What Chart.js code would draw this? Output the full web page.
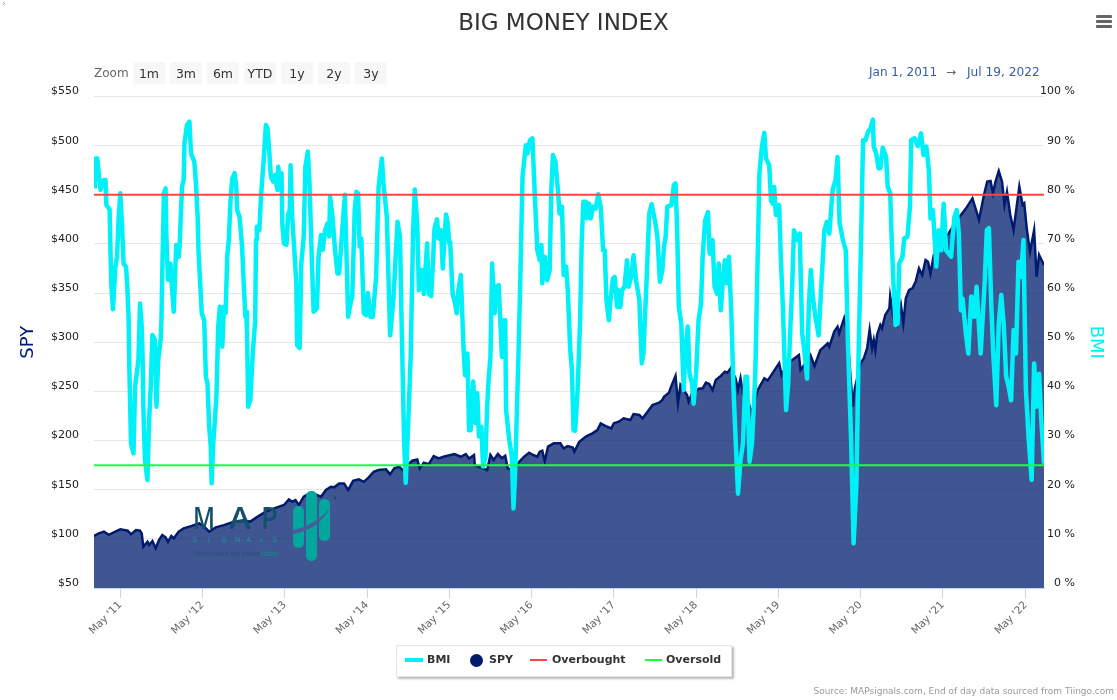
<!DOCTYPE html>
<html><head><meta charset="utf-8">
<script src="https://cdn.jsdelivr.net/npm/chart.js@4"></script>
<style>
html,body{margin:0;padding:0;background:#fff;overflow:hidden}
body{width:1117px;height:700px;position:relative;font-family:"DejaVu Sans",sans-serif}
canvas{position:absolute;left:0;top:0}
.abs{position:absolute;white-space:nowrap}
.btn{position:absolute;top:62px;width:32px;height:22px;line-height:23px;background:#f7f7f7;border-radius:2px;text-align:center;font-size:12.5px;color:#333}
.leg{position:absolute;white-space:nowrap;top:653px;font-size:11px;font-weight:bold;color:#333;line-height:14px}
</style></head><body>
<canvas id="c" width="1117" height="700"></canvas>
<div class="abs" style="left:0;width:1127px;top:7px;text-align:center;font-size:23px;color:#333;line-height:30px">BIG MONEY INDEX</div>
<div class="abs" style="left:2px;top:-2px;font-size:9px;color:#999">›</div>
<div class="abs" style="left:1096px;top:15px;width:16px;height:3px;background:#666;border-radius:1px"></div>
<div class="abs" style="left:1096px;top:20px;width:16px;height:3px;background:#666;border-radius:1px"></div>
<div class="abs" style="left:1096px;top:25px;width:16px;height:3px;background:#666;border-radius:1px"></div>
<div class="abs" style="left:94px;top:66px;font-size:12px;color:#666">Zoom</div>
<div id="btns"></div>
<div class="abs" style="left:869px;top:65px;font-size:12px;color:#335cad">Jan 1, 2011</div>
<div class="abs" style="left:946px;top:65px;font-size:12px;color:#666">→</div>
<div class="abs" style="left:967px;top:65px;font-size:12.2px;color:#335cad">Jul 19, 2022</div>
<svg class="abs" style="left:0;top:0" width="1117" height="700">
  <g font-family="'Open Sans',sans-serif" font-size="30" font-weight="600" fill="#14506e">
    <text x="193" y="529" textLength="22" lengthAdjust="spacingAndGlyphs">M</text>
    <text x="229" y="529" textLength="22" lengthAdjust="spacingAndGlyphs">A</text>
    <text x="261" y="529" textLength="17" lengthAdjust="spacingAndGlyphs">P</text>
  </g>
  <text x="193 208 221.5 235 246.5 260 273" y="542" font-family="'Open Sans',sans-serif" font-size="7" fill="#0aa39b">SIGNALS</text>
  <text x="193" y="556" font-family="'Open Sans',sans-serif" font-size="6.5" fill="#1f5273" textLength="85">Tomorrow's top stocks <tspan fill="#0a8f8c">today</tspan></text>
  <rect x="293" y="506" width="11" height="42" rx="5" fill="#00a79d"/>
  <rect x="306" y="491" width="11" height="70" rx="5" fill="#00a79d"/>
  <rect x="319" y="499" width="11" height="42" rx="5" fill="#00a79d"/>
  <path d="M293 530 Q316 525 330 508 Q318 530 293 534 Z" fill="#4a5a9a"/>
  <circle cx="335" cy="498" r="1.4" fill="#14506e"/>
</svg>
<div id="legend"></div>
<div class="abs" style="right:3px;top:686px;font-size:9px;color:#999">Source: MAPsignals.com, End of day data sourced from Tiingo.com</div>
<script>
const rangeButtons=["1m","3m","6m","YTD","1y","2y","3y"];
const tickYears=[0.32,1.32,2.32,3.32,4.32,5.32,6.32,7.32,8.32,9.32,10.32,11.33];
const tickLabels=["May '11","May '12","May '13","May '14","May '15","May '16","May '17","May '18","May '19","May '20","May '21","May '22"];
const endYears=[0,11.55];
const overbought=[80,80];
const oversold=[25,25];
const bmiYears=[.01,.02,.04,.06,.08,.12,.14,.15,.19,.20,.21,.23,.26,.28,.30,.32,.34,.36,.39,.405,.42,.43,.45,.48,.50,.54,.56,.58,.59,.60,.62,.65,.67,.69,.71,.74,.76,.78,.81,.82,.83,.85,.87,.88,.90,.93,.95,.97,.99,1.00,1.03,1.04,1.07,1.09,1.10,1.13,1.16,1.18,1.22,1.24,1.26,1.27,1.31,1.34,1.36,1.38,1.40,1.42,1.43,1.45,1.47,1.49,1.51,1.53,1.56,1.58,1.60,1.62,1.64,1.66,1.68,1.71,1.73,1.74,1.77,1.80,1.82,1.84,1.85,1.86,1.875,1.90,1.93,1.96,1.97,1.98,2.01,2.03,2.06,2.09,2.11,2.13,2.15,2.18,2.20,2.23,2.24,2.27,2.28,2.29,2.31,2.34,2.36,2.38,2.39,2.41,2.44,2.46,2.47,2.50,2.52,2.55,2.57,2.60,2.62,2.65,2.67,2.71,2.73,2.76,2.78,2.81,2.84,2.86,2.87,2.90,2.93,2.96,2.98,3.01,3.05,3.09,3.11,3.14,3.17,3.19,3.21,3.23,3.25,3.28,3.31,3.33,3.36,3.39,3.43,3.46,3.50,3.52,3.56,3.60,3.64,3.69,
3.72,3.74,3.77,3.79,3.82,3.85,3.88,3.90,3.93,3.95,3.99,4.01,4.05,4.07,4.10,4.12,4.14,4.17,4.19,4.22,4.24,4.28,4.30,4.32,4.33,4.36,4.39,4.41,4.43,4.46,4.49,4.51,4.54,4.56,4.58,4.61,4.64,4.66,4.68,4.71,4.73,4.76,4.78,4.80,4.82,4.84,4.87,4.89,4.92,4.96,4.98,5.00,5.01,5.05,5.08,5.10,5.12,5.16,5.18,5.21,5.25,5.27,5.30,5.33,5.36,5.39,5.42,5.44,5.45,5.48,5.51,5.54,5.56,5.58,5.61,5.64,5.66,5.69,5.71,5.74,5.76,5.79,5.81,5.83,5.85,5.88,5.91,5.93,5.95,5.98,5.99,6.02,6.04,6.07,6.10,6.13,6.16,6.19,6.21,6.23,6.26,6.28,6.31,6.33,6.36,6.375,6.40,6.42,6.45,6.48,6.50,6.53,6.56,6.59,6.63,6.66,6.68,6.72,6.75,6.78,6.82,6.85,6.88,6.91,6.93,6.95,6.97,7.02,7.05,7.07,7.09,7.11,7.14,7.17,7.19,7.22,7.24,7.27,7.29,7.32,7.35,7.38,7.40,7.43,7.465,7.485,7.52,7.545,7.575,7.595,7.62,7.65,7.67,7.695,7.72,7.75,7.775,7.81,7.83,7.86,7.89,7.92,7.94,7.97,8.00,8.04,8.09,
8.12,8.15,8.17,8.21,8.23,8.25,8.27,8.29,8.33,8.35,8.375,8.415,8.44,8.465,8.49,8.51,8.55,8.58,8.61,8.64,8.67,8.69,8.715,8.74,8.77,8.81,8.84,8.88,8.91,8.94,8.98,9.015,9.04,9.065,9.105,9.14,9.165,9.205,9.235,9.27,9.295,9.33,9.35,9.38,9.41,9.44,9.47,9.48,9.51,9.54,9.56,9.59,9.63,9.65,9.68,9.70,9.72,9.745,9.77,9.79,9.83,9.85,9.89,9.92,9.935,9.975,10.015,10.055,10.085,10.12,10.15,10.17,10.20,10.24,10.27,10.30,10.33,10.36,10.42,10.46,10.49,10.515,10.54,10.56,10.60,10.63,10.665,10.70,10.73,10.78,10.83,10.855,10.88,10.91,10.935,10.97,11.0,11.03,11.06,11.09,11.12,11.15,11.18,11.21,11.24,11.27,11.30,11.33,11.365,11.40,11.43,11.46,11.49,11.515,11.55];
const bmiValues=[81.3,87.4,87.4,84,81,83,83,78,77,68.8,62,56.7,65.4,67.4,75.5,80.3,74,66,65.3,61.3,55.2,44.4,29.4,27.4,41,46.4,57.9,53.2,47.7,36.9,26,22,34.2,41,51.5,50.5,36.9,46.4,50.5,54.5,64,80.3,81.3,71.5,62.7,66,60.6,56.2,65.4,69.8,67.4,69.4,81.6,83,90.5,94.2,94.9,88.4,86.7,82.3,75.5,68.8,55.9,54.5,43,41.6,32.8,28.8,21.3,29.4,34.2,39.6,53.2,57.2,49.1,57.2,55.9,67.4,71.1,78.9,83.3,84.4,81.6,76.9,75.5,69.5,62,55.2,56.2,52.5,36.9,38.2,47.7,54.5,70.8,73.5,72.8,79.6,86.4,94.2,93.5,89,83.7,82.7,84,81,85.7,81,84.4,74,70.1,69.8,75.9,76.9,86,75.5,67.4,62,49.4,48.8,66,71.5,85.7,88.8,82.3,66,56.2,56.9,67.4,71.8,68.8,72.8,74.2,71.5,79.6,75.5,68.8,64,64,70.8,80,55.2,57.2,59.3,76.9,80.6,80.3,69.5,71.1,55.9,55.5,60,55.2,55.2,63.3,81.6,87.4,82.3,75.5,51.4,58.6,74.5,
71.5,53.8,30.1,21.4,33.5,47,72.8,81.1,74.2,60.6,64.7,59.8,70.1,59.9,59.4,66,73.2,75,71.1,72.8,65,76,74.2,70.1,70.4,59.9,57.9,55.9,60.6,63.7,49.8,43.3,47.7,32.1,32.1,42,33.5,39.6,30.8,32.8,24.7,26.7,36.9,43,47,66,55.9,61.3,61.6,47,54.5,54.5,36.2,30,26.7,16.2,23.3,47,60.6,83.7,90.1,88.4,91.1,91.5,79.6,68.7,66.7,69.8,62,67.4,62.6,64.7,81,88.1,86.7,81,76.2,77.6,63.7,65.4,60.6,48.4,44.7,32.1,32,40.3,54.5,70.8,78.6,78.6,75.2,78.2,75.2,77.6,77.2,80.1,77.6,68.7,68.7,58.6,54.5,58.6,63,63.3,57.2,60.6,57.2,60.6,61.3,66.7,61.3,63.3,67.7,62.6,58.6,45.7,47.7,63.3,76.2,78.1,74.8,71.5,62.3,64.7,69.4,71.5,77.6,77.9,82,82.3,72.8,57.2,53.8,40.3,48.4,53.2,43.6,41.6,37.5,43.6,54.5,57.9,67.4,74.8,76.5,68,70.8,61.3,59.9,66,56.5,63.3,66.7,62,67.4,55.2,40.3,26.7,19.2,26,29.4,43,43,25.7,29.4,43.6,84.3,
89.8,92.6,87.4,86,78.9,78.2,81.6,75.9,77.9,67.4,57.2,36.2,41.6,52.5,62,72.8,70.8,72.1,51.8,47.7,42.6,57.2,64.7,59.3,55.2,51.4,60.6,72.8,74.5,72.1,81,83,87.7,74.2,70.8,68.7,50.4,30.1,9.1,21.3,47,74.2,91.1,91.1,92.8,93.5,95.3,89.8,88.4,85.4,85.4,89.6,87.7,81.6,80.3,70.1,62,53.5,53.8,66,67.4,71.1,71.5,77.6,91.1,91.5,89.9,92.5,88.1,89.8,85,75.2,76.9,65.4,72.8,68.7,78.2,68.7,67.4,75.5,76.9,72.1,56.5,58.9,51.8,47.7,59.3,55.2,61.3,47.7,62.6,72.8,73.2,57.2,47,37.2,53.8,59.6,53.8,43,41,38.2,52.5,47.7,66.4,63.3,70.8,40.3,30.1,22,45.7,36.9,43.6,34.8,25.3];
const spyYears=[0,.06,.12,.18,.24,.32,.41,.45,.51,.56,.58,.60,.65,.67,.71,.75,.79,.83,.87,.90,.94,.97,1.03,1.09,1.18,1.28,1.34,1.40,1.48,1.58,1.70,1.82,1.90,1.99,2.09,2.19,
2.31,2.37,2.41,2.45,2.49,2.55,2.62,2.70,2.76,2.82,2.88,2.92,2.98,3.04,3.09,3.15,3.22,3.28,3.34,3.40,3.46,3.55,3.60,3.65,3.71,3.76,3.81,3.87,3.93,3.96,4.01,4.07,4.13,4.19,4.25,4.38,4.46,4.52,4.56,
4.62,4.63,4.78,4.82,4.86,4.91,4.96,5.0,5.03,5.11,5.17,5.23,5.29,5.34,5.39,5.42,5.45,5.48,5.52,5.59,5.67,5.71,5.76,5.82,5.84,5.90,5.98,6.06,6.12,6.16,6.24,6.29,6.32,6.38,6.44,6.52,6.56,6.63,6.67,6.73,6.79,6.87,6.91,
6.93,6.99,7.02,7.07,7.10,7.13,7.21,7.23,7.27,7.36,7.40,7.44,7.48,7.52,7.56,7.62,7.67,7.70,7.74,7.80,7.83,7.86,7.89,7.92,7.99,8.03,8.07,8.15,8.19,8.25,8.33,8.36,8.41,8.49,8.57,8.59,8.65,8.71,8.76,8.83,8.92,8.94,9.0,9.04,9.06,9.12,9.15,9.18,9.225,9.25,
9.32,9.36,9.40,9.43,9.46,9.48,9.50,9.52,9.56,9.58,9.62,9.67,9.68,9.72,9.76,9.81,9.84,9.87,9.91,9.95,9.99,10.03,10.07,10.11,10.14,10.17,10.21,10.39,10.48,10.54,10.60,10.68,10.76,10.82,10.86,10.90,10.93,10.96,11.0,11.04,11.07,11.10,11.14,11.18,11.25,11.29,11.31,11.34,11.38,11.43,11.46,11.49,11.55];
const spyValues=[102.9,105.6,107.3,104,106.6,109.7,108.3,104.6,109,108.3,105.6,92,97,93.8,97.8,90.4,98.8,104,101.6,97,102.9,100.5,107.3,110.7,113,115.8,112.4,107.3,111.7,114,117.5,119,117.5,122.6,127.7,131,
134.4,140.2,137.8,139.5,134.4,143,146.3,145,142.9,149.7,153,152.4,156.4,156.4,149.7,159,160.5,158,162.5,168.3,170,170.7,165.6,171.7,173.4,169.3,175,179.5,180.8,171.7,177.4,176,184.2,181.8,183.5,186.3,183.5,186.3,181.8,
185.3,175,170,185.3,180.2,186.3,182,184.6,171.7,170,178.5,183.6,187.7,185.3,183.6,188.7,189.7,179,193.8,197.2,197.2,192,194.4,193,188.7,198.8,204,207.3,210.7,217.5,214,212.4,217.5,219.2,222.6,220.9,227,226,222.6,229.4,236,238.5,241.2,
244.6,248.7,255.5,265.7,237.9,256.5,246.4,239.6,248,253,253,258.9,257.5,251.4,261.6,265.7,270,269,273.5,263.3,251.4,263.3,248,253,227.7,237.9,251.4,263.3,261,268.4,278.6,266.7,275,282,287,271.8,278.6,287,275.8,292,299,295.5,310.8,315.8,309,324.3,312.5,285,234.6,253,
278.6,283.7,293.9,312.5,293.9,302.3,292,307.4,317.6,314.2,327.8,334.5,346.4,324.4,317.6,337.9,319.3,344.7,353.2,354.9,361.7,375.2,368.4,383.7,382,370,388.8,410.8,422.7,429.5,436,446.4,424.4,449.8,463.4,464,451.5,463.3,474.2,463.3,439.6,453,429.5,414.2,458.3,439.6,441.3,415.9,392,414,366.7,388.8,378.6];

function pts(xs,ys){return xs.map((x,i)=>({x,y:ys[i]}));}
const font={family:"'DejaVu Sans',sans-serif",size:11};
const chart=new Chart(document.getElementById('c'),{
  type:'line',
  data:{datasets:[
    {label:'BMI',data:pts(bmiYears,bmiValues),yAxisID:'yR',borderColor:'#00f0f8',backgroundColor:'#00f0f8',borderWidth:4.5,pointRadius:0,tension:0,order:2,borderJoinStyle:'round'},
    {label:'SPY',data:pts(spyYears,spyValues),yAxisID:'yL',borderColor:'#001a70',backgroundColor:'rgba(0,30,110,0.75)',borderWidth:2.5,pointRadius:0,tension:0,fill:'start',order:3},
    {label:'Overbought',data:pts(endYears,overbought),yAxisID:'yR',borderColor:'#ff4444',borderWidth:2,pointRadius:0,order:1},
    {label:'Oversold',data:pts(endYears,oversold),yAxisID:'yR',borderColor:'#1cff3c',borderWidth:2,pointRadius:0,order:0}
  ]},
  options:{
    responsive:false,animation:false,devicePixelRatio:1,
    layout:{padding:{top:96.5,right:42,left:0,bottom:0}},
    plugins:{legend:{display:false},tooltip:{enabled:false},title:{display:false}},
    scales:{
      x:{type:'linear',min:endYears[0],max:endYears[1],
        afterBuildTicks(s){s.ticks=tickYears.map(v=>({value:v}));},
        afterFit(s){s.height=112;},
        grid:{drawOnChartArea:false,drawTicks:true,tickLength:10,tickColor:'#ccd6eb'},
        border:{color:'#ccd6eb'},
        ticks:{autoSkip:false,maxRotation:45,minRotation:45,padding:1,color:'#666',font:{family:font.family,size:10.5},callback:(v,i)=>tickLabels[i]}},
      yL:{position:'left',min:50,max:550,
        afterFit(s){s.width=94;},
        grid:{color:'#e6e6e6',drawTicks:false},border:{display:false},
        title:{display:true,text:'SPY',color:'#001a70',font:{family:font.family,size:18},padding:{top:18,bottom:0}},
        ticks:{stepSize:50,padding:15,labelOffset:-5,color:'#222',font,callback:v=>'$'+v}},
      yR:{position:'right',min:0,max:100,
        afterFit(s){s.width=31;s._computeLabelArea=()=>undefined;},
        grid:{drawOnChartArea:false,drawTicks:false},border:{display:false},
        title:{display:true,text:'BMI',color:'#00f0f8',font:{family:font.family,size:18},padding:{top:-31,bottom:0}},
        ticks:{stepSize:10,crossAlign:'far',padding:0,labelOffset:-5,color:'#222',font,callback:v=>v+' %'}}
    }
  }
});
const btns=document.getElementById('btns');
rangeButtons.forEach((t,i)=>{const d=document.createElement('div');d.className='btn';d.style.left=(133+37*i)+'px';d.textContent=t;btns.appendChild(d);});
const leg=document.getElementById('legend');
const box=document.createElement('div');box.style.cssText='position:absolute;left:396px;top:645px;width:334px;height:30px;background:#fff;border:1px solid #e4e4e4;box-shadow:2px 2px 2px #bbb';leg.appendChild(box);
const legPos=[[405,18,4,427],[470,13,13,489],[530,17,2,552],[645,17,2,666]];
chart.data.datasets.forEach((ds,i)=>{
  const [x,w,h,tx]=legPos[i];
  const s=document.createElement('div');
  s.style.cssText=`position:absolute;left:${x}px;top:${660-h/2}px;width:${w}px;height:${h}px;background:${ds.borderColor};border-radius:${h>4?'50%':'0'}`;
  leg.appendChild(s);
  const t=document.createElement('div');t.className='leg';t.style.left=tx+'px';t.textContent=ds.label;leg.appendChild(t);
});
</script></body></html>
